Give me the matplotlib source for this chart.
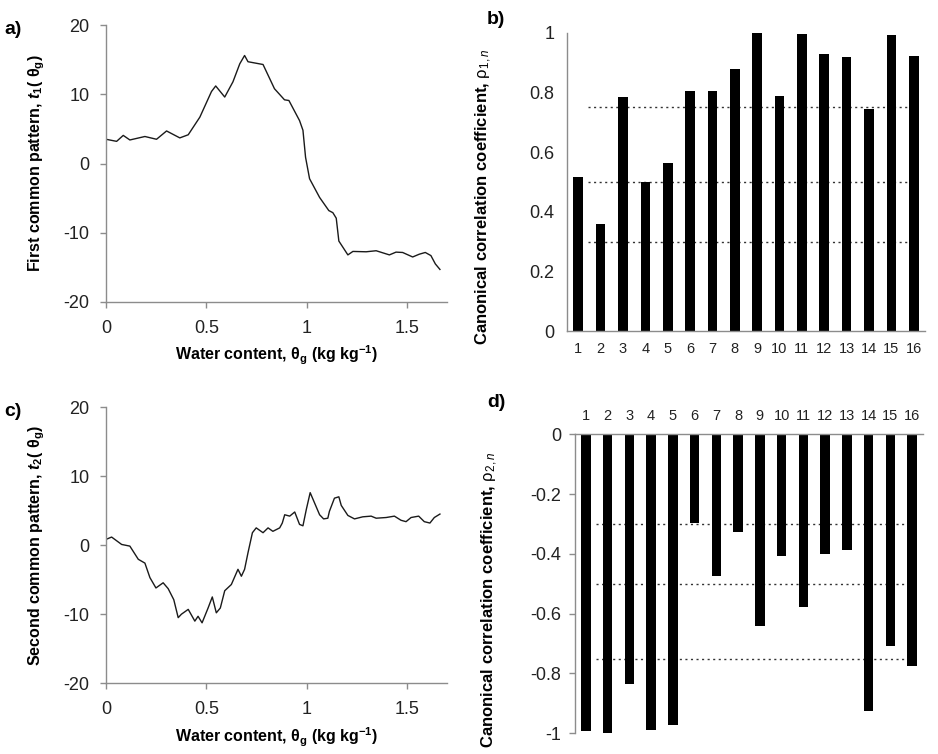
import numpy as np
import matplotlib
matplotlib.use("Agg")
import matplotlib.pyplot as plt

plt.rcParams['font.family'] = ['Liberation Sans', 'DejaVu Sans']
plt.rcParams['axes.unicode_minus'] = False
plt.rcParams['mathtext.fontset'] = 'custom'
plt.rcParams['mathtext.rm'] = 'Liberation Sans:bold'
plt.rcParams['mathtext.it'] = 'Liberation Sans:italic:bold'
plt.rcParams['mathtext.bf'] = 'Liberation Sans:bold'
plt.rcParams['mathtext.sf'] = 'Liberation Sans'
plt.rcParams['mathtext.cal'] = 'Liberation Sans:italic'

# first common pattern t1 (panel a)
theta_a = [0.0, 0.053, 0.086, 0.119, 0.194, 0.252, 0.302, 0.368, 0.41, 0.468,
           0.526, 0.547, 0.592, 0.633, 0.667, 0.691, 0.708, 0.783, 0.84, 0.89,
           0.912, 0.965, 0.982, 0.995, 1.015, 1.065, 1.111, 1.131, 1.148, 1.161,
           1.206, 1.231, 1.297, 1.347, 1.413, 1.446, 1.479, 1.529, 1.562, 1.592,
           1.62, 1.642, 1.665]
t1 = [3.5, 3.2, 4.06, 3.4, 3.9, 3.5, 4.7, 3.7, 4.15, 6.7,
      10.4, 11.2, 9.6, 11.8, 14.4, 15.6, 14.7, 14.3, 10.8, 9.2,
      9.1, 6.2, 4.8, 0.9, -2.2, -4.9, -6.8, -7.1, -7.9, -11.2,
      -13.2, -12.7, -12.75, -12.6, -13.2, -12.8, -12.85, -13.5, -13.1, -12.85,
      -13.3, -14.5, -15.3]

# second common pattern t2 (panel c)
theta_c = [0.0, 0.028, 0.078, 0.119, 0.161, 0.194, 0.219, 0.249, 0.285, 0.31,
           0.338, 0.36, 0.376, 0.41, 0.443, 0.459, 0.479, 0.509, 0.53, 0.55,
           0.57, 0.592, 0.625, 0.658, 0.675, 0.691, 0.708, 0.73, 0.749, 0.783,
           0.808, 0.832, 0.866, 0.879, 0.891, 0.916, 0.941, 0.965, 0.982, 0.999,
           1.018, 1.065, 1.085, 1.106, 1.114, 1.139, 1.161, 1.173, 1.206, 1.239,
           1.28, 1.322, 1.347, 1.397, 1.438, 1.471, 1.496, 1.521, 1.559, 1.587,
           1.615, 1.637, 1.665]
t2 = [0.83, 1.17, 0.1, -0.14, -2.05, -2.6, -4.7, -6.2, -5.45, -6.3,
      -7.9, -10.5, -10.0, -9.3, -11.0, -10.3, -11.25, -9.1, -7.5, -9.8,
      -9.1, -6.6, -5.7, -3.5, -4.5, -3.5, -1.1, 1.8, 2.5, 1.8,
      2.5, 2.0, 2.5, 3.2, 4.4, 4.2, 4.8, 3.0, 2.8, 5.2,
      7.6, 4.4, 3.8, 3.9, 4.9, 6.8, 7.0, 5.75, 4.3, 3.8,
      4.1, 4.2, 3.9, 4.0, 4.2, 3.6, 3.4, 4.0, 4.2, 3.4,
      3.2, 4.0, 4.5]

# canonical correlation coefficients
stations = list(range(1, 17))
rho1 = [0.515, 0.36, 0.783, 0.5, 0.562, 0.803, 0.805, 0.877, 1.0, 0.789,
        0.995, 0.928, 0.917, 0.744, 0.992, 0.922]
rho2 = [-0.991, -1.0, -0.835, -0.989, -0.972, -0.298, -0.473, -0.328, -0.641, -0.407,
        -0.577, -0.399, -0.386, -0.924, -0.708, -0.775]
levels1 = [0.75, 0.5, 0.3]
levels2 = [-0.3, -0.5, -0.75]

grey = '#8c8c8c'
fig = plt.figure(figsize=(9.38, 7.54), dpi=100)


def style_axes(ax, spines):
    for s in ['left', 'right', 'top', 'bottom']:
        ax.spines[s].set_visible(s in spines)
        ax.spines[s].set_color(grey)
        ax.spines[s].set_linewidth(1)
    ax.tick_params(color=grey, length=4, width=1, labelsize=13, labelcolor='#222222')


# line panels
for pos, x, y, lab, ylab in [
        ([0.113, 0.5995, 0.3635, 0.3673], theta_a, t1, 'a)',
         r'First common pattern, $\mathit{t}_1$( $\mathrm{\theta}_\mathrm{g}$)'),
        ([0.113, 0.0938, 0.3635, 0.3664], theta_c, t2, 'c)',
         r'Second common pattern, $\mathit{t}_2$( $\mathrm{\theta}_\mathrm{g}$)')]:
    ax = fig.add_axes(pos)
    ax.plot(x, y, color='#1a1a1a', lw=1.0)
    ax.set_xlim(0, 1.7)
    ax.set_ylim(-20, 20)
    ax.set_xticks([0, 0.5, 1, 1.5])
    ax.set_xticklabels(['0', '0.5', '1', '1.5'])
    ax.set_yticks([-20, -10, 0, 10, 20])
    style_axes(ax, ['left', 'bottom'])
    ax.tick_params(axis='x', pad=9)
    ax.tick_params(axis='y', pad=8)
    ax.set_xlabel(r'Water content, $\mathrm{\theta}_\mathrm{g}$ (kg kg$^{-1}$)',
                  fontsize=11.5, fontweight='bold', labelpad=5)
    ax.set_ylabel(ylab, fontsize=11.5, fontweight='bold', labelpad=12)
    fig.text(0.005, pos[1] + pos[3] + 0.005, lab, fontsize=14, fontweight='bold',
             va='top')

# panel b
axb = fig.add_axes([0.6045, 0.561, 0.3816, 0.3956])
for lv in levels1:
    axb.hlines(lv, 1.45, 16, colors='#333333', linestyles=(0, (1.5, 2.5)), lw=1, zorder=1)
axb.bar(stations, rho1, width=0.43, color='black', zorder=2)
axb.set_xlim(0.5, 16.5)
axb.set_ylim(0, 1)
axb.set_xticks(stations)
axb.set_yticks([0, 0.2, 0.4, 0.6, 0.8, 1])
axb.set_yticklabels(['0', '0.2', '0.4', '0.6', '0.8', '1'])
style_axes(axb, ['left', 'bottom'])
axb.tick_params(axis='x', length=0, labelsize=10.5, pad=8)
axb.tick_params(axis='y', length=0, pad=9)
axb.set_ylabel(r'Canonical correlation coefficient, $\mathsf{\rho}_{\mathsf{1,}\mathcal{n}}$',
               fontsize=12, fontweight='bold')
axb.yaxis.set_label_coords(-0.204, 0.45)
fig.text(0.519, 0.985, 'b)', fontsize=14, fontweight='bold', va='top')

# panel d
axd = fig.add_axes([0.613, 0.0275, 0.371, 0.3965])
for lv in levels2:
    axd.hlines(lv, 1.45, 16, colors='#333333', linestyles=(0, (1.5, 2.5)), lw=1, zorder=1)
axd.bar(stations, rho2, width=0.43, color='black', zorder=2)
axd.set_xlim(0.5, 16.5)
axd.set_ylim(-1, 0)
axd.set_xticks(stations)
axd.set_yticks([-1, -0.8, -0.6, -0.4, -0.2, 0])
axd.set_yticklabels(['-1', '-0.8', '-0.6', '-0.4', '-0.2', '0'])
axd.xaxis.tick_top()
style_axes(axd, ['left', 'top'])
axd.tick_params(axis='x', length=0, labelsize=10.5, pad=8)
axd.tick_params(axis='y', length=4, pad=6)
axd.set_ylabel(r'Canonical correlation coefficient, $\mathsf{\rho}_{\mathsf{2,}\mathcal{n}}$',
               fontsize=12, fontweight='bold')
axd.yaxis.set_label_coords(-0.216, 0.446)
fig.text(0.519, 0.478, 'd)', fontsize=14, fontweight='bold', va='top')

fig.savefig('out.png', dpi=100)
